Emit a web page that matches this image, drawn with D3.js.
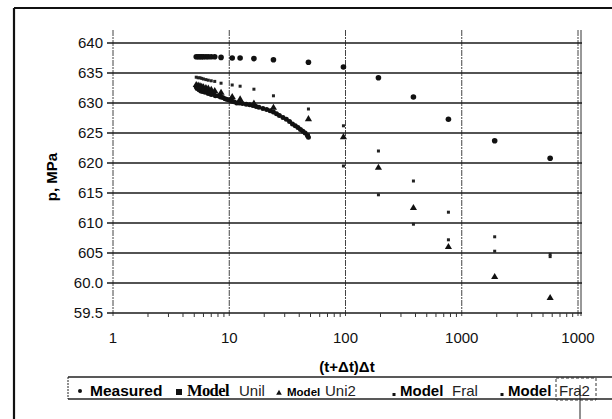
<!DOCTYPE html>
<html><head><meta charset="utf-8">
<script src="https://cdn.jsdelivr.net/npm/d3@7/dist/d3.min.js"></script>
<style>body{margin:0;background:#fff}svg{display:block}</style>
</head><body><svg id="c" width="612" height="419"></svg>
<script>
// ---- data ----
const yTickValues = [64.0, 63.5, 63.0, 62.5, 62.0, 61.5, 61.0, 60.5, 60.0, 59.5];
const yTickLabels = ["640", "635", "630", "625", "620", "615", "610", "605", "60.0", "59.5"];
const xTickValues = [1, 10, 100, 1000, 10000];
const xTickLabels = ["1", "10", "100", "1000", "1000"];
const xTitle = "(t+\u0394t)\u0394t";
const yTitle = "p, MPa";
const legendLabels = ["Measured", "Model Unil", "Model Uni2", "Model Fral", "Model Fra2"];

const measuredT = [5.2,5.3,5.4,5.5,5.6,5.7,5.8,5.9,6.0,6.2,6.4,6.6,6.8,7.0,7.3,7.6,8.0,8.4,8.8,9.2,9.6,10,10.5,11,11.6,12.2,13,14,15,16,17,18,19.5,21,22.5,24,25.5,27,29,31,33,35,37,39,41,43,45,47,48];
const measuredP = [63.27,63.24,63.26,63.22,63.25,63.2,63.23,63.19,63.21,63.18,63.19,63.16,63.17,63.14,63.15,63.12,63.12,63.1,63.09,63.07,63.06,63.05,63.03,63.02,63.0,63.0,62.99,62.98,62.97,62.96,62.94,62.93,62.91,62.89,62.87,62.85,62.82,62.79,62.76,62.73,62.69,62.65,62.62,62.59,62.56,62.53,62.5,62.46,62.43];

const modelT = [5.2,5.4,5.6,5.8,6.0,6.3,6.6,7.0,7.5,8.5,10.6,12.4,16.3,24,48,96,192,384,768,1920,5760];
const uni1P = [63.77,63.77,63.77,63.77,63.77,63.77,63.77,63.77,63.77,63.76,63.75,63.75,63.74,63.72,63.68,63.6,63.42,63.1,62.73,62.37,62.08];
const uni2P = [63.3,63.29,63.28,63.27,63.26,63.25,63.24,63.22,63.2,63.17,63.1,63.06,62.99,62.92,62.73,62.43,61.92,61.25,60.6,60.1,59.75];
const fra1P = [63.43,63.42,63.42,63.41,63.4,63.39,63.38,63.37,63.36,63.33,63.3,63.28,63.23,63.12,62.9,62.62,62.2,61.7,61.18,60.77,60.48];
const fra2P = [63.25,63.24,63.23,63.22,63.21,63.2,63.19,63.18,63.16,63.13,63.06,63.02,62.95,62.84,62.47,61.95,61.47,60.98,60.72,60.53,60.44];

// ---- layout ----
const svg = d3.select("#c");
const L = 113, R = 578, T = 43, B = 313;
const x = d3.scaleLog().domain([1, 10000]).range([L, R]);
const y = d3.scaleLinear().domain([59.5, 64.0]).range([B, T]);
const sans = "'Liberation Sans', Arial, sans-serif";

// outer frame
svg.append("line").attr("x1", 14).attr("x2", 612).attr("y1", 8).attr("y2", 8).attr("stroke", "#111").attr("stroke-width", 2);
svg.append("line").attr("x1", 14).attr("x2", 14).attr("y1", 8).attr("y2", 419).attr("stroke", "#111").attr("stroke-width", 2.2);

// vertical gridlines (decades)
svg.append("g").selectAll("line").data(xTickValues).join("line")
  .attr("x1", d => x(d)).attr("x2", d => x(d)).attr("y1", 30).attr("y2", B + 4)
  .attr("stroke", "#444").attr("stroke-width", 1).attr("stroke-dasharray", "6,1,2,1");
// right border
svg.append("line").attr("x1", R + 3).attr("x2", R + 3).attr("y1", 30).attr("y2", B + 3).attr("stroke", "#333").attr("stroke-width", 1);

// horizontal gridlines
svg.append("g").selectAll("line").data(yTickValues).join("line")
  .attr("x1", L - 6).attr("x2", R + 4).attr("y1", d => y(d)).attr("y2", d => y(d))
  .attr("stroke", "#1a1a1a").attr("stroke-width", 1.3);

// minor x ticks
const minor = [];
for (let dec = 1; dec < 10000; dec *= 10) for (let k = 2; k <= 9; k++) minor.push(dec * k);
svg.append("g").selectAll("line").data(minor).join("line")
  .attr("x1", d => x(d)).attr("x2", d => x(d)).attr("y1", B).attr("y2", B + 4)
  .attr("stroke", "#333").attr("stroke-width", 1);

// y tick labels
svg.append("g").selectAll("text").data(yTickValues).join("text")
  .attr("x", 103).attr("y", d => y(d) + 5).attr("text-anchor", "end")
  .attr("font-family", sans).attr("font-size", 15).attr("fill", "#111")
  .text((d, i) => yTickLabels[i]);

// x tick labels
svg.append("g").selectAll("text").data(xTickValues).join("text")
  .attr("x", d => x(d)).attr("y", 343).attr("text-anchor", "middle")
  .attr("font-family", sans).attr("font-size", 15).attr("fill", "#111")
  .text((d, i) => xTickLabels[i]);

// titles
svg.append("text").attr("x", 347).attr("y", 372).attr("text-anchor", "middle")
  .attr("font-family", sans).attr("font-weight", "bold").attr("font-size", 15).text(xTitle);
svg.append("text").attr("transform", "translate(57,177) rotate(-90)").attr("text-anchor", "middle")
  .attr("font-family", sans).attr("font-weight", "bold").attr("font-size", 15).text(yTitle);

// ---- marks ----
const g = svg.append("g");
g.selectAll(".u1").data(modelT).join("circle")
  .attr("cx", d => x(d)).attr("cy", (d, i) => y(uni1P[i])).attr("r", 2.8).attr("fill", "#111");
g.selectAll(".f1").data(modelT).join("rect")
  .attr("x", d => x(d) - 1.5).attr("y", (d, i) => y(fra1P[i]) - 1.5).attr("width", 3).attr("height", 3).attr("fill", "#222");
g.selectAll(".f2").data(modelT).join("rect")
  .attr("x", d => x(d) - 1.5).attr("y", (d, i) => y(fra2P[i]) - 1.5).attr("width", 3).attr("height", 3).attr("fill", "#222");
g.selectAll(".u2").data(modelT).join("path")
  .attr("d", d3.symbol(d3.symbolTriangle, 22))
  .attr("transform", (d, i) => `translate(${x(d)},${y(uni2P[i])})`).attr("fill", "#111");
g.selectAll(".m").data(measuredT).join("circle")
  .attr("cx", d => x(d)).attr("cy", (d, i) => y(measuredP[i])).attr("r", 2.5).attr("fill", "#111");

// ---- legend ----
const LY = 396;
svg.append("line").attr("x1", 68).attr("x2", 612).attr("y1", 377).attr("y2", 377).attr("stroke", "#222").attr("stroke-width", 1.5);
svg.append("line").attr("x1", 68).attr("x2", 612).attr("y1", 399).attr("y2", 399).attr("stroke", "#222").attr("stroke-width", 1.5);
svg.append("line").attr("x1", 68).attr("x2", 68).attr("y1", 377).attr("y2", 399).attr("stroke", "#222").attr("stroke-width", 1).attr("stroke-dasharray", "2,1");
svg.append("rect").attr("x", 556).attr("y", 378).attr("width", 40).attr("height", 22)
  .attr("fill", "none").attr("stroke", "#333").attr("stroke-width", 1).attr("stroke-dasharray", "3,2");
svg.append("line").attr("x1", 580).attr("x2", 580).attr("y1", 385).attr("y2", 419).attr("stroke", "#222").attr("stroke-width", 1);

// legend piece layout
const markerX = [80, 179, 279, 394, 502];
const firstX = [90, 187, 287, 400, 508];
const firstSize = [15.5, 16.5, 11.5, 15, 15];
const restX = [null, 239, 325, 452, 559];
legendLabels.forEach((lab, i) => {
  if (i === 0) {
    svg.append("text").attr("x", firstX[i]).attr("y", LY).attr("font-family", sans).attr("font-weight", "bold")
      .attr("font-size", firstSize[i]).text(lab);
    svg.append("circle").attr("cx", markerX[i]).attr("cy", LY - 5).attr("r", 2).attr("fill", "#111");
    return;
  }
  const parts = lab.split(" ");
  const serif = i === 1;
  svg.append("text").attr("x", firstX[i]).attr("y", LY)
    .attr("font-family", serif ? "'Liberation Serif', 'Times New Roman', serif" : sans)
    .attr("font-weight", "bold").attr("font-size", firstSize[i])
    .attr("letter-spacing", serif ? -0.6 : 0).text(parts[0]);
  svg.append("text").attr("x", restX[i]).attr("y", LY).attr("font-family", sans)
    .attr("font-size", 15).attr("fill", "#222").text(parts[1]);
  if (i === 1) svg.append("rect").attr("x", markerX[i] - 3).attr("y", LY - 7).attr("width", 6).attr("height", 6).attr("fill", "#111");
  else if (i === 2) svg.append("path").attr("d", d3.symbol(d3.symbolTriangle, 14)).attr("transform", `translate(${markerX[i]},${LY - 3})`).attr("fill", "#111");
  else svg.append("rect").attr("x", markerX[i] - 1.5).attr("y", LY - 3).attr("width", 3).attr("height", 3).attr("fill", "#111");
});
</script></body></html>
